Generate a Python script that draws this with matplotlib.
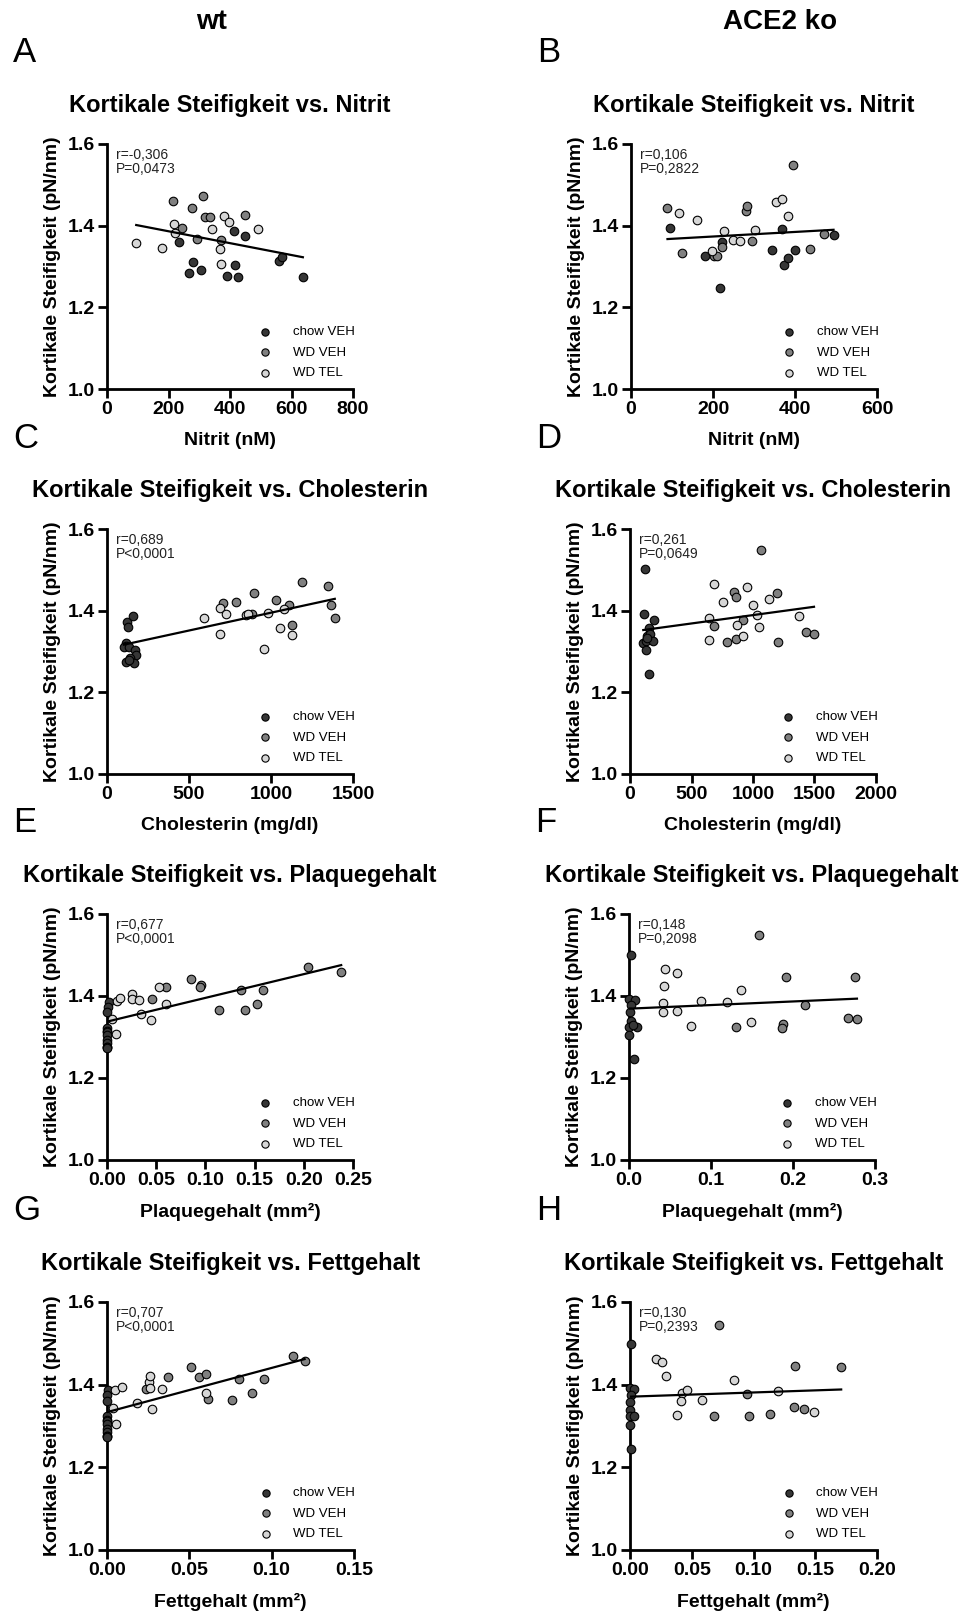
import numpy as np
import matplotlib
matplotlib.use("Agg")
import matplotlib.pyplot as plt

plt.rcParams['font.family'] = ['Liberation Sans', 'DejaVu Sans']

# ---- data ----
# A: wt, nitrite
a_chow_x = [234, 280, 267, 306, 389, 417, 427, 414, 449, 558, 569, 637]
a_chow_y = [1.361, 1.312, 1.285, 1.292, 1.276, 1.304, 1.274, 1.386, 1.374, 1.314, 1.323, 1.275]
a_wdveh_x = [215, 277, 313, 320, 334, 245, 294, 370, 449]
a_wdveh_y = [1.460, 1.444, 1.472, 1.421, 1.421, 1.394, 1.368, 1.366, 1.427]
a_wdtel_x = [95, 180, 217, 220, 343, 379, 397, 367, 372, 492]
a_wdtel_y = [1.357, 1.345, 1.404, 1.382, 1.393, 1.424, 1.408, 1.342, 1.307, 1.391]

# B: ACE2 ko, nitrite
b_chow_x = [96, 222, 218, 181, 345, 368, 374, 382, 399, 494]
b_chow_y = [1.394, 1.359, 1.247, 1.325, 1.341, 1.391, 1.303, 1.320, 1.341, 1.378]
b_wdveh_x = [89, 125, 203, 210, 223, 280, 283, 294, 395, 436, 470]
b_wdveh_y = [1.444, 1.333, 1.325, 1.325, 1.347, 1.435, 1.447, 1.363, 1.549, 1.343, 1.379]
b_wdtel_x = [116, 161, 198, 228, 249, 267, 302, 354, 368, 382]
b_wdtel_y = [1.430, 1.413, 1.337, 1.386, 1.365, 1.362, 1.389, 1.457, 1.466, 1.423]

# C: wt, cholesterol
c_chow_x = [114, 118, 104, 134, 122, 130, 157, 171, 179, 118, 138, 163, 134]
c_chow_y = [1.322, 1.314, 1.310, 1.310, 1.373, 1.361, 1.386, 1.304, 1.292, 1.274, 1.284, 1.272, 1.279]
c_wdveh_x = [707, 785, 895, 886, 1029, 1110, 1130, 1189, 1348, 1368, 1389]
c_wdveh_y = [1.420, 1.421, 1.443, 1.392, 1.427, 1.414, 1.365, 1.471, 1.460, 1.414, 1.382]
c_wdtel_x = [590, 691, 728, 691, 846, 862, 984, 1057, 1077, 1130, 955]
c_wdtel_y = [1.382, 1.406, 1.391, 1.343, 1.390, 1.392, 1.395, 1.357, 1.404, 1.341, 1.307]

# D: ACE2 ko, cholesterol
d_chow_x = [125, 114, 108, 130, 130, 141, 157, 163, 152, 195, 184, 141]
d_chow_y = [1.501, 1.392, 1.320, 1.325, 1.303, 1.339, 1.358, 1.342, 1.246, 1.377, 1.325, 1.333]
d_wdveh_x = [683, 786, 846, 862, 859, 921, 1062, 1198, 1206, 1431, 1496]
d_wdveh_y = [1.362, 1.324, 1.445, 1.434, 1.331, 1.377, 1.549, 1.443, 1.324, 1.347, 1.343]
d_wdtel_x = [645, 640, 683, 759, 873, 921, 954, 1003, 1035, 1052, 1133, 1371]
d_wdtel_y = [1.383, 1.327, 1.466, 1.422, 1.365, 1.337, 1.458, 1.414, 1.390, 1.360, 1.428, 1.386]

# E: wt, plaque
e_chow_x = [0.002, 0.001, 0.0, 0.0, 0.0, 0.0, 0.0, 0.0, 0.0, 0.0, 0.0, 0.0]
e_chow_y = [1.386, 1.374, 1.361, 1.323, 1.314, 1.312, 1.304, 1.292, 1.285, 1.276, 1.275, 1.274]
e_wdveh_x = [0.046, 0.060, 0.085, 0.096, 0.095, 0.114, 0.136, 0.140, 0.152, 0.159, 0.2045, 0.238]
e_wdveh_y = [1.393, 1.421, 1.442, 1.428, 1.421, 1.367, 1.415, 1.365, 1.380, 1.415, 1.471, 1.459]
e_wdtel_x = [0.005, 0.009, 0.010, 0.0136, 0.025, 0.025, 0.033, 0.035, 0.045, 0.053, 0.060]
e_wdtel_y = [1.344, 1.307, 1.389, 1.394, 1.405, 1.393, 1.391, 1.357, 1.342, 1.423, 1.381]

# F: ACE2 ko, plaque
f_chow_x = [0.002, 0.0, 0.007, 0.002, 0.001, 0.002, 0.0, 0.0, 0.006, 0.010, 0.005]
f_chow_y = [1.501, 1.393, 1.391, 1.377, 1.361, 1.340, 1.324, 1.304, 1.247, 1.325, 1.330]
f_wdveh_x = [0.159, 0.191, 0.276, 0.215, 0.130, 0.188, 0.187, 0.267, 0.278]
f_wdveh_y = [1.549, 1.447, 1.446, 1.379, 1.324, 1.331, 1.323, 1.346, 1.343]
f_wdtel_x = [0.044, 0.043, 0.058, 0.042, 0.041, 0.058, 0.075, 0.088, 0.120, 0.136, 0.149]
f_wdtel_y = [1.467, 1.424, 1.456, 1.382, 1.361, 1.364, 1.327, 1.389, 1.385, 1.414, 1.337]

# G: wt, fat content
g_chow_x = [0.0005, 0.0, 0.0, 0.0, 0.0, 0.0, 0.0, 0.0, 0.0, 0.0, 0.0, 0.0]
g_chow_y = [1.386, 1.374, 1.361, 1.323, 1.314, 1.312, 1.304, 1.292, 1.285, 1.276, 1.275, 1.274]
g_wdveh_x = [0.0239, 0.0373, 0.0513, 0.0561, 0.0604, 0.0612, 0.0758, 0.0801, 0.0882, 0.0953, 0.1131, 0.1200]
g_wdveh_y = [1.390, 1.419, 1.442, 1.419, 1.426, 1.365, 1.364, 1.414, 1.380, 1.413, 1.469, 1.458]
g_wdtel_x = [0.0036, 0.0053, 0.0047, 0.0093, 0.0182, 0.0255, 0.0264, 0.0264, 0.0276, 0.0332, 0.060]
g_wdtel_y = [1.343, 1.306, 1.388, 1.394, 1.356, 1.406, 1.422, 1.392, 1.340, 1.390, 1.381]

# H: ACE2 ko, fat content
h_chow_x = [0.0005, 0.0, 0.0032, 0.0005, 0.0, 0.0, 0.0, 0.0032, 0.0, 0.0005]
h_chow_y = [1.498, 1.392, 1.390, 1.376, 1.358, 1.339, 1.323, 1.323, 1.302, 1.245]
h_wdveh_x = [0.0719, 0.134, 0.171, 0.0946, 0.0681, 0.0962, 0.113, 0.1327, 0.1408]
h_wdveh_y = [1.545, 1.444, 1.442, 1.377, 1.323, 1.323, 1.330, 1.345, 1.341]
h_wdtel_x = [0.0211, 0.0262, 0.0292, 0.0419, 0.046, 0.0411, 0.0381, 0.0581, 0.0846, 0.1197, 0.1487]
h_wdtel_y = [1.463, 1.454, 1.420, 1.381, 1.387, 1.360, 1.326, 1.363, 1.411, 1.384, 1.335]

group_labels = ["chow VEH", "WD VEH", "WD TEL"]
group_colors = ["#363636", "#808080", "#d6d6d6"]

panels = [
    ("A", "Nitrit", "Nitrit (nM)", [0, 200, 400, 600, 800], "{:.0f}", "r=-0,306\nP=0,0473",
     (a_chow_x, a_chow_y), (a_wdveh_x, a_wdveh_y), (a_wdtel_x, a_wdtel_y)),
    ("B", "Nitrit", "Nitrit (nM)", [0, 200, 400, 600], "{:.0f}", "r=0,106\nP=0,2822",
     (b_chow_x, b_chow_y), (b_wdveh_x, b_wdveh_y), (b_wdtel_x, b_wdtel_y)),
    ("C", "Cholesterin", "Cholesterin (mg/dl)", [0, 500, 1000, 1500], "{:.0f}", "r=0,689\nP<0,0001",
     (c_chow_x, c_chow_y), (c_wdveh_x, c_wdveh_y), (c_wdtel_x, c_wdtel_y)),
    ("D", "Cholesterin", "Cholesterin (mg/dl)", [0, 500, 1000, 1500, 2000], "{:.0f}", "r=0,261\nP=0,0649",
     (d_chow_x, d_chow_y), (d_wdveh_x, d_wdveh_y), (d_wdtel_x, d_wdtel_y)),
    ("E", "Plaquegehalt", "Plaquegehalt (mm²)", [0, 0.05, 0.10, 0.15, 0.20, 0.25], "{:.2f}", "r=0,677\nP<0,0001",
     (e_chow_x, e_chow_y), (e_wdveh_x, e_wdveh_y), (e_wdtel_x, e_wdtel_y)),
    ("F", "Plaquegehalt", "Plaquegehalt (mm²)", [0, 0.1, 0.2, 0.3], "{:.1f}", "r=0,148\nP=0,2098",
     (f_chow_x, f_chow_y), (f_wdveh_x, f_wdveh_y), (f_wdtel_x, f_wdtel_y)),
    ("G", "Fettgehalt", "Fettgehalt (mm²)", [0, 0.05, 0.10, 0.15], "{:.2f}", "r=0,707\nP<0,0001",
     (g_chow_x, g_chow_y), (g_wdveh_x, g_wdveh_y), (g_wdtel_x, g_wdtel_y)),
    ("H", "Fettgehalt", "Fettgehalt (mm²)", [0, 0.05, 0.10, 0.15, 0.20], "{:.2f}", "r=0,130\nP=0,2393",
     (h_chow_x, h_chow_y), (h_wdveh_x, h_wdveh_y), (h_wdtel_x, h_wdtel_y)),
]

# axes boxes in pixels (left, top, right, bottom)
boxes = [(107, 144, 353, 389), (631, 144, 877, 389),
         (107, 529, 353, 774), (630, 529, 876, 774),
         (107, 914, 353, 1160), (629, 914, 875, 1160),
         (107, 1302, 354, 1550), (630, 1302, 877, 1550)]

W, H = 965, 1618
fig = plt.figure(figsize=(W / 100, H / 100), dpi=100)

for (letter, what, xlabel, xticks, fmt, stats, *groups), (l, t, r, b) in zip(panels, boxes):
    ax = fig.add_axes([l / W, 1 - b / H, (r - l) / W, (b - t) / H])
    handles = []
    for (gx, gy), lab, col in zip(groups, group_labels, group_colors):
        h = ax.scatter(gx, gy, s=38, color=col, edgecolor="black", linewidth=0.8,
                       zorder=3, clip_on=False, label=lab)
        handles.append(h)
    allx = np.concatenate([np.asarray(g[0], float) for g in groups])
    ally = np.concatenate([np.asarray(g[1], float) for g in groups])
    k, d = np.polyfit(allx, ally, 1)
    xs = np.array([allx.min(), allx.max()])
    ax.plot(xs, k * xs + d, color="black", lw=1.6, zorder=4)

    ax.set_xlim(0, xticks[-1])
    ax.set_ylim(1.0, 1.6)
    ax.set_xticks(xticks)
    ax.set_xticklabels([fmt.format(v) for v in xticks])
    ax.set_yticks([1.0, 1.2, 1.4, 1.6])
    ax.set_yticklabels(["1.0", "1.2", "1.4", "1.6"])
    for s in ("top", "right"):
        ax.spines[s].set_visible(False)
    for s in ("left", "bottom"):
        ax.spines[s].set_linewidth(2)
    ax.tick_params(width=2, length=6.5, labelsize=14, pad=2)
    for lbl in ax.get_xticklabels() + ax.get_yticklabels():
        lbl.set_fontweight("bold")
    ax.set_ylabel("Kortikale Steifigkeit (pN/nm)", fontsize=14, fontweight="bold", labelpad=5)
    ax.set_xlabel(xlabel, fontsize=14, fontweight="bold", labelpad=10)
    ax.set_title("Kortikale Steifigkeit vs. " + what, fontsize=17, fontweight="bold", pad=23)
    ax.text(0.035, 0.985, stats, transform=ax.transAxes, va="top", ha="left",
            fontsize=10, linespacing=1.0, color="#222222")
    ax.legend(handles=handles, loc="lower left", bbox_to_anchor=(0.615, 0.04),
              frameon=False, fontsize=9.5, markerscale=0.85, handlelength=1.0,
              handletextpad=1.6, labelspacing=0.62, borderaxespad=0, borderpad=0)

    fig.text((l - 94) / W, 1 - (t - 91) / H, letter, fontsize=25, ha="left", va="center")

fig.text(212 / W, 1 - 22 / H, "wt", fontsize=20, fontweight="bold", ha="center", va="center")
fig.text(780 / W, 1 - 22 / H, "ACE2 ko", fontsize=20, fontweight="bold", ha="center", va="center")

fig.savefig("out.png", dpi=100)
